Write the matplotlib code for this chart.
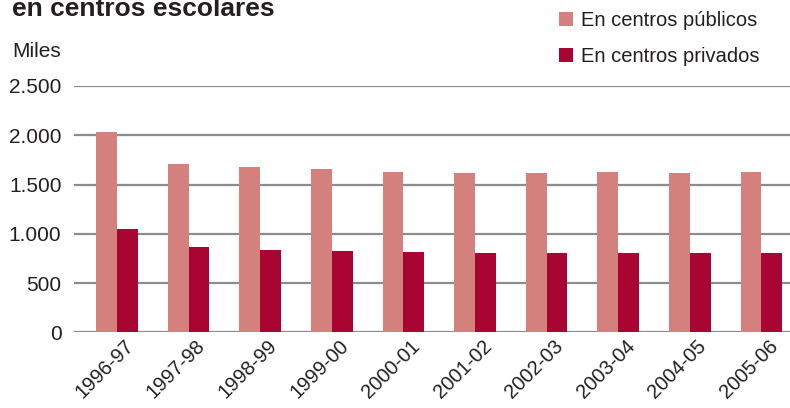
import numpy as np
import matplotlib
matplotlib.use('Agg')
import matplotlib.pyplot as plt
import matplotlib.transforms as mtransforms

plt.rcParams['font.family'] = ['Liberation Sans', 'DejaVu Sans']

# curso escolar
cursos = ['1996-97', '1997-98', '1998-99', '1999-00', '2000-01',
          '2001-02', '2002-03', '2003-04', '2004-05', '2005-06']
# alumnos (miles)
publicos = [2036, 1710, 1677, 1657, 1626, 1616, 1616, 1626, 1616, 1629]
privados = [1050, 867, 833, 823, 813, 806, 806, 806, 806, 806]
y_ticks = [0, 500, 1000, 1500, 2000, 2500]
y_labels = ['0', '500', '1.000', '1.500', '2.000', '2.500']

col_pub = '#d4817e'
col_priv = '#a80532'
grid_col = '#8c8c8c'
txt_col = '#231f20'

fig = plt.figure(figsize=(7.9, 4.08), dpi=100)
ax = fig.add_axes([74 / 790, 1 - 332.3 / 408, 1 - 74 / 790, (332.3 - 86) / 408])

x = np.arange(len(cursos))
w = 0.29
b1 = ax.bar(x - w / 2, publicos, w, color=col_pub, zorder=3, label='En centros públicos')
b2 = ax.bar(x + w / 2, privados, w, color=col_priv, zorder=3, label='En centros privados')

ax.set_xlim(-0.6, 9.4)
ax.set_ylim(0, 2500)
ax.set_yticks(y_ticks)
ax.set_yticklabels(y_labels, fontsize=15, color=txt_col)
ax.set_xticks(x)
ax.set_xticklabels(cursos, fontsize=14.5, color=txt_col, rotation=45,
                   ha='right', va='top', rotation_mode='anchor')
ax.tick_params(axis='both', length=0)
ax.tick_params(axis='y', pad=9)
ax.tick_params(axis='x', pad=3)

for s in ax.spines.values():
    s.set_visible(False)
ax.yaxis.grid(True, color=grid_col, linewidth=1.6, zorder=0)
ax.set_axisbelow(True)

# shift x labels a little to the right of the group centre
off = mtransforms.ScaledTranslation(7 / 100, 0, fig.dpi_scale_trans)
for lbl in ax.get_xticklabels():
    lbl.set_transform(lbl.get_transform() + off)

fig.text(12 / 790, 1 - 16 / 408, 'en centros escolares', fontsize=19, fontweight='bold',
         color=txt_col, ha='left', va='baseline')
fig.text(12 / 790, 1 - 57 / 408, 'Miles', fontsize=15, color=txt_col, ha='left', va='baseline')

leg = fig.legend(handles=[b1, b2], loc='upper left', bbox_to_anchor=(551 / 790, 1 - 3 / 408),
                 frameon=False, fontsize=14.5, handlelength=0.7, handleheight=0.7,
                 handletextpad=0.4, labelspacing=0.85, borderaxespad=0)
for t in leg.get_texts():
    t.set_color(txt_col)

fig.savefig('out.png', dpi=100)
